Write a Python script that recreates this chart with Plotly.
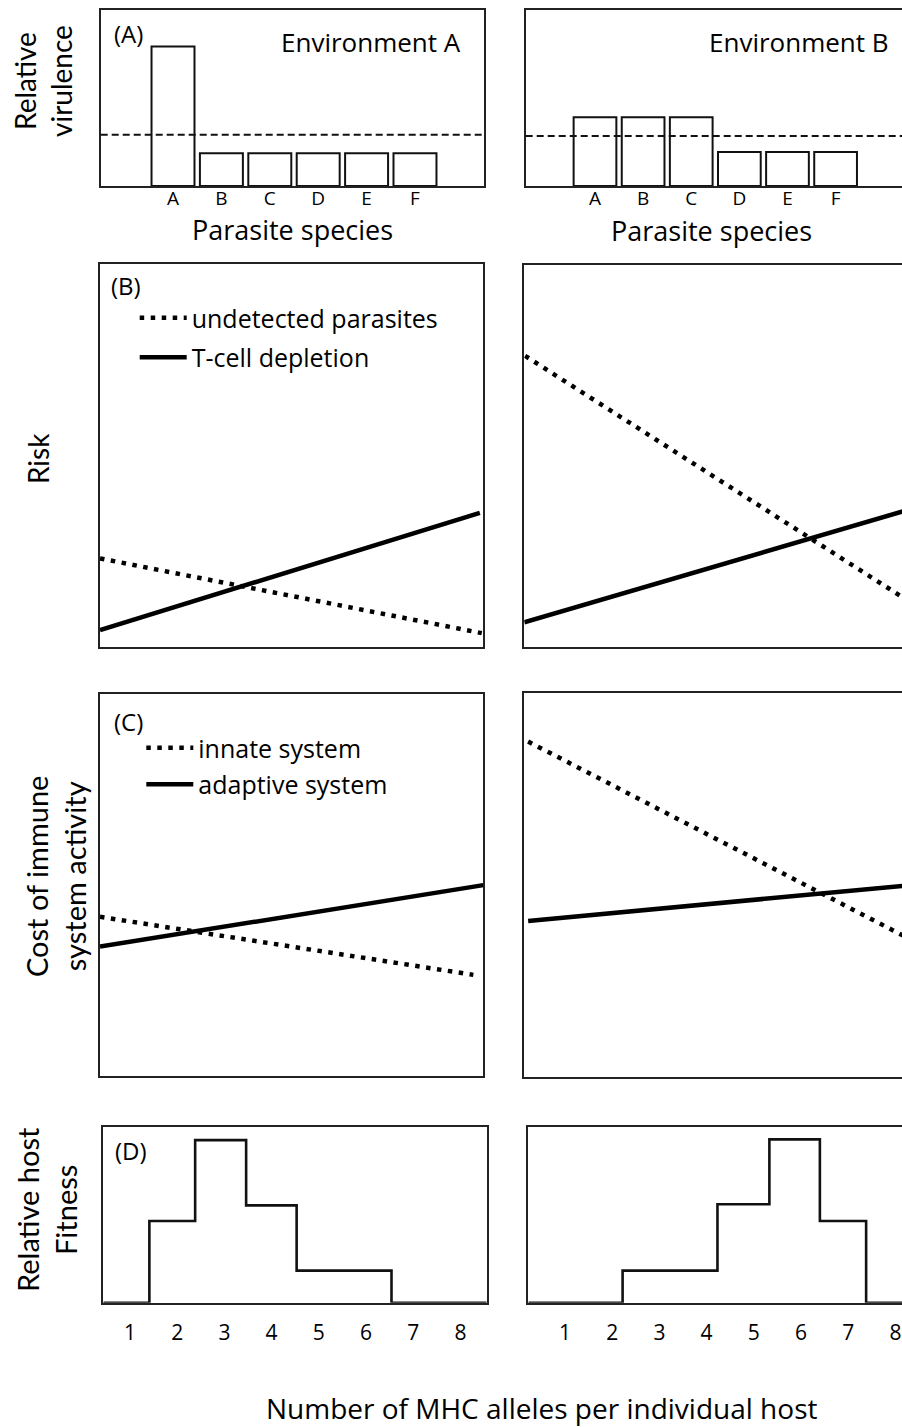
import plotly.graph_objects as go

W, H = 902, 1427
TXT = "Open Sans"
VTXT = "Lato"
INK = "#111111"

# ---------------- data ----------------
# (A) relative virulence of parasite species
species = ["A", "B", "C", "D", "E", "F"]
species_pos = [0, 1, 2, 3, 4, 5]
virulence_envA = [0.79, 0.185, 0.185, 0.185, 0.185, 0.185]
virulence_envB = [0.39, 0.39, 0.39, 0.193, 0.193, 0.193]
mean_virulence_envA = 0.29
mean_virulence_envB = 0.283

# (B) risk vs MHC diversity (relative position 0..1 across panel)
undetected_envA_x = [0.0, 0.996]
undetected_envA_y = [0.232, 0.037]
tcell_envA_x = [0.0, 0.991]
tcell_envA_y = [0.045, 0.351]
undetected_envB_x = [0.002, 1.0]
undetected_envB_y = [0.762, 0.121]
tcell_envB_x = [0.0, 1.0]
tcell_envB_y = [0.064, 0.358]

# (C) cost of immune system activity
innate_envA_x = [0.0, 0.974]
innate_envA_y = [0.417, 0.265]
adaptive_envA_x = [0.0, 1.0]
adaptive_envA_y = [0.339, 0.500]
innate_envB_x = [0.01, 1.0]
innate_envB_y = [0.874, 0.362]
adaptive_envB_x = [0.01, 1.0]
adaptive_envB_y = [0.406, 0.499]

# (D) relative host fitness: step edges (number of MHC alleles) and levels
alleles = [1, 2, 3, 4, 5, 6, 7, 8]
fitness_envA_edges = [1.41, 2.38, 3.46, 4.53, 6.54]
fitness_envA_levels = [0.464, 0.924, 0.553, 0.182, 0.0]
fitness_envB_edges = [2.22, 4.23, 5.33, 6.40, 7.38]
fitness_envB_levels = [0.182, 0.559, 0.928, 0.464, 0.0]

# ---------------- layout helpers (screen px -> paper fraction) ----------------
def fx(p):
    return p / W

def fy(p):
    return 1 - p / H

def xn(k):
    return "x" if k == 1 else f"x{k}"

def yn(k):
    return "y" if k == 1 else f"y{k}"

# panel boxes in pixels: (left, right, top, bottom)
boxes = {
    1: (100.7, 484.0, 9.5, 186.0),
    2: (525.7, W, 9.5, 186.0),
    3: (100.0, 483.3, 264.3, 647.3),
    4: (524.3, W, 265.0, 646.7),
    5: (100.0, 483.3, 694.3, 1076.0),
    6: (524.3, W, 693.3, 1076.7),
    7: (103.3, 486.7, 1126.7, 1302.7),
    8: (528.3, W, 1126.7, 1302.7),
}
xranges = {
    1: [-1.494, 6.426],
    2: [-1.44, 6.38],
    3: [0, 1],
    4: [0, 0.9854],
    5: [0, 1],
    6: [0, 0.9854],
    7: [0.434, 8.557],
    8: [0.222, 8.14],
}

fig = go.Figure()

# (A) bars
for k, vals in ((1, virulence_envA), (2, virulence_envB)):
    fig.add_trace(go.Bar(
        x=species_pos, y=vals, width=0.888,
        marker=dict(color="white", line=dict(color=INK, width=2)),
        xaxis=xn(k), yaxis=yn(k), showlegend=False, hoverinfo="skip"))

DOT = "4.5px,6.5px"

def line_trace(k, x, y, dotted, name=None, legend=None):
    t = dict(
        x=x, y=y, mode="lines",
        line=dict(color="black", width=4.5,
                  dash=DOT if dotted else "solid"),
        xaxis=xn(k), yaxis=yn(k), hoverinfo="skip")
    if legend:
        t.update(name=name, showlegend=True, legend=legend, legendgroup=name)
    else:
        t.update(showlegend=False)
    return go.Scatter(**t)

# (B)
fig.add_trace(line_trace(3, undetected_envA_x, undetected_envA_y, True, "undetected parasites", "legend2"))
fig.add_trace(line_trace(3, tcell_envA_x, tcell_envA_y, False, "T-cell depletion", "legend2"))
fig.add_trace(line_trace(4, undetected_envB_x, undetected_envB_y, True))
fig.add_trace(line_trace(4, tcell_envB_x, tcell_envB_y, False))
# (C)
fig.add_trace(line_trace(5, innate_envA_x, innate_envA_y, True, "innate system", "legend3"))
fig.add_trace(line_trace(5, adaptive_envA_x, adaptive_envA_y, False, "adaptive system", "legend3"))
fig.add_trace(line_trace(6, innate_envB_x, innate_envB_y, True))
fig.add_trace(line_trace(6, adaptive_envB_x, adaptive_envB_y, False))

# (D) step lines
for k, edges, levels in ((7, fitness_envA_edges, fitness_envA_levels),
                         (8, fitness_envB_edges, fitness_envB_levels)):
    lo, hi = xranges[k]
    xs = [lo] + edges + [hi]
    ys = [0.0] + levels + [levels[-1]]
    fig.add_trace(go.Scatter(
        x=xs, y=ys, mode="lines", line=dict(color=INK, width=2.6, shape="hv"),
        xaxis=xn(k), yaxis=yn(k), showlegend=False, hoverinfo="skip"))

layout = dict(
    width=W, height=H, margin=dict(l=0, r=0, t=0, b=0),
    paper_bgcolor="white", plot_bgcolor="white",
    font=dict(family=TXT, color="black"),
    showlegend=True, bargap=0,
)

for k, (l, r, t, b) in boxes.items():
    left_col = k % 2 == 1
    xa = dict(domain=[fx(l), min(fx(r), 1.0)], range=xranges[k], anchor=yn(k),
              showgrid=False, zeroline=False, showline=True, linecolor="#222",
              linewidth=2, mirror=True, ticks="", fixedrange=True)
    ya = dict(domain=[fy(b), fy(t)], range=[0, 1], anchor=xn(k),
              showgrid=False, zeroline=False, showline=True, linecolor="#222",
              linewidth=2, mirror=left_col, ticks="", showticklabels=False,
              fixedrange=True)
    if k in (1, 2):
        xa.update(tickmode="array", tickvals=species_pos, ticktext=species,
                  tickfont=dict(size=19, family=TXT, color="black"),
                  ticklabelstandoff=-6)
    elif k in (7, 8):
        xa.update(tickmode="array", tickvals=alleles,
                  ticktext=[str(a) for a in alleles],
                  tickfont=dict(size=21, family=TXT, color="black"),
                  ticklabelstandoff=10)
    else:
        xa.update(showticklabels=False)
    layout["xaxis" if k == 1 else f"xaxis{k}"] = xa
    layout["yaxis" if k == 1 else f"yaxis{k}"] = ya

# dashed mean-virulence lines
layout["shapes"] = [
    dict(type="line", xref="x domain", x0=0, x1=1, yref="y",
         y0=mean_virulence_envA, y1=mean_virulence_envA,
         line=dict(color=INK, width=2, dash="7px,4px"), layer="above"),
    dict(type="line", xref="x2 domain", x0=0, x1=1, yref="y2",
         y0=mean_virulence_envB, y1=mean_virulence_envB,
         line=dict(color=INK, width=2, dash="7px,4px"), layer="above"),
]

leg_common = dict(xref="paper", yref="paper", xanchor="left", yanchor="top",
                  bgcolor="rgba(0,0,0,0)", borderwidth=0, itemwidth=47,
                  font=dict(size=25, family=TXT, color="black"))
layout["legend"] = dict(visible=False)
layout["legend2"] = dict(leg_common, x=fx(134.7), y=fy(295), tracegroupgap=4)
layout["legend3"] = dict(leg_common, x=fx(141.3), y=fy(725), tracegroupgap=1)

def ann(text, x, y, size, angle=0, family=TXT):
    return dict(text=text, x=fx(x), y=fy(y), xref="paper", yref="paper",
                xanchor="center", yanchor="middle", showarrow=False,
                textangle=angle, font=dict(size=size, family=family, color="black"))

layout["annotations"] = [
    ann("(A)", 128, 34, 24),
    ann("Environment A", 371, 42, 26),
    ann("Environment B", 799, 42, 26),
    ann("Parasite species", 292, 229.5, 27),
    ann("Parasite species", 711, 231, 27),
    ann("(B)", 126, 285, 24),
    ann("(C)", 128, 721, 24),
    ann("(D)", 131, 1150, 24),
    ann("Relative<br>virulence", 43, 81, 28, -90, VTXT),
    ann("Risk", 38, 459, 28, -90, VTXT),
    ann("Cost of immune<br>system activity", 55, 877, 29, -90, VTXT),
    ann("Relative host<br>Fitness", 46, 1210, 29, -90, VTXT),
    ann("Number of MHC alleles per individual host", 541, 1408, 28),
]

fig.update_layout(**layout)
# remove the browser's default 8px body margin so the figure fills the window
fig.write_html("out.html",
               config={"displayModeBar": False, "staticPlot": True},
               post_script="document.body.style.margin='0';"
                           "document.body.style.overflow='hidden';")
